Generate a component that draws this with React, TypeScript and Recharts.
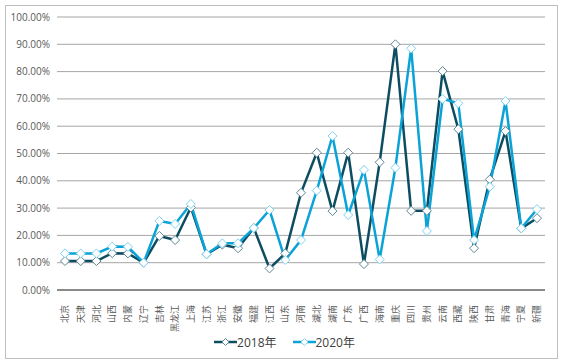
import { LineChart, Line, XAxis, YAxis, CartesianGrid, Legend } from 'recharts';

const provinces = [
  '北京', '天津', '河北', '山西', '内蒙', '辽宁', '吉林', '黑龙江', '上海', '江苏', '浙江',
  '安徽', '福建', '江西', '山东', '河南', '湖北', '湖南', '广东', '广西', '海南', '重庆',
  '四川', '贵州', '云南', '西藏', '陕西', '甘肃', '青海', '宁夏', '新疆',
];

const rate2018 = [
  10.6, 10.6, 10.6, 13.5, 13.4, 10.0, 19.8, 18.3, 30.2, 13.1, 16.6,
  15.3, 22.7, 7.9, 13.4, 35.6, 50.3, 28.9, 50.3, 9.5, 46.8, 90.0,
  29.0, 29.0, 80.2, 58.9, 15.3, 40.5, 58.2, 22.6, 26.3,
];

const rate2020 = [
  13.4, 13.4, 13.4, 15.9, 15.8, 10.0, 25.3, 24.2, 31.5, 13.1, 17.1,
  17.1, 22.7, 29.3, 11.0, 18.3, 36.4, 56.4, 27.5, 44.0, 11.2, 44.8,
  88.5, 21.6, 70.0, 68.4, 18.3, 37.8, 69.2, 22.6, 29.6,
];

const yTicks = [0, 10, 20, 30, 40, 50, 60, 70, 80, 90, 100];

const data = provinces.map((name, i) => ({
  name,
  y2018: rate2018[i],
  y2020: rate2020[i],
}));

const FONT = '"Open Sans", "Noto Sans CJK SC", sans-serif';
const DARK = '#0d4d62';
const LIGHT = '#0aa3d8';

const Diamond = (stroke: string) => (props: any) => {
  const { cx, cy, index } = props;
  if (cx == null || cy == null) return null;
  const r = 4.5;
  return (
    <polygon
      key={index}
      points={`${cx},${cy - r} ${cx + r},${cy} ${cx},${cy + r} ${cx - r},${cy}`}
      fill="#fff"
      stroke={stroke}
      strokeWidth={1}
    />
  );
};

// labels turned 90deg, reading bottom to top, hanging from the axis
const RotatedTick = (props: any) => {
  const { x, y, payload } = props;
  const ty = y + 7;
  return (
    <text
      x={x}
      y={ty}
      dy="0.35em"
      transform={`rotate(-90, ${x}, ${ty})`}
      textAnchor="end"
      fill="#595959"
      fontSize={9}
      fontFamily='"Noto Sans CJK SC", sans-serif'
    >
      {payload.value}
    </text>
  );
};

const LegendBox = () => {
  const items = [
    { label: '2018年', color: DARK, dot: '#5f8796' },
    { label: '2020年', color: LIGHT, dot: '#7fd3f0' },
  ];
  return (
    <div style={{ display: 'flex', justifyContent: 'center', paddingLeft: 8, fontFamily: FONT, fontSize: 12, color: '#404040' }}>
      {items.map((it) => (
        <div key={it.label} style={{ display: 'flex', alignItems: 'center', margin: '0 8px' }}>
          <svg width={23} height={10}>
            <line x1={0} y1={5} x2={23} y2={5} stroke={it.color} strokeWidth={2.5} />
            <polygon points="11.5,1.5 15,5 11.5,8.5 8,5" fill="#fff" stroke={it.dot} strokeWidth={1} />
          </svg>
          <span>{it.label}</span>
        </div>
      ))}
    </div>
  );
};

export default function App() {
  return (
    <div style={{ position: 'absolute', left: 0, top: 0, width: 561, height: 364, background: '#fff' }}>
      <div style={{ position: 'absolute', left: 5, top: 5, width: 551, height: 352, border: '1px solid #bfbfbf' }} />
      <LineChart
        width={561}
        height={364}
        data={data}
        margin={{ top: 17, right: 16, left: 0, bottom: 0 }}
      >
        <CartesianGrid vertical={false} stroke="#a6a6a6" />
        <XAxis
          dataKey="name"
          interval={0}
          height={74}
          padding={{ left: 8, right: 8 }}
          tick={<RotatedTick />}
          tickLine={false}
          axisLine={{ stroke: '#404040' }}
        />
        <YAxis
          width={57}
          domain={[0, 100]}
          ticks={yTicks}
          tickFormatter={(v: number) => v.toFixed(2) + '%'}
          tick={{ fill: '#595959', fontSize: 10, fontFamily: FONT }}
          tickLine={false}
          tickSize={0}
          tickMargin={7}
          axisLine={false}
        />
        <Legend
          layout="horizontal"
          verticalAlign="middle"
          align="center"
          wrapperStyle={{ top: 333, left: 0, width: 561 }}
          content={<LegendBox />}
        />
        <Line
          dataKey="y2018"
          stroke={DARK}
          strokeWidth={2.5}
          dot={Diamond('#5f8796')}
          activeDot={false}
          isAnimationActive={false}
        />
        <Line
          dataKey="y2020"
          stroke={LIGHT}
          strokeWidth={2.5}
          dot={Diamond('#7fd3f0')}
          activeDot={false}
          isAnimationActive={false}
        />
      </LineChart>
    </div>
  );
}
